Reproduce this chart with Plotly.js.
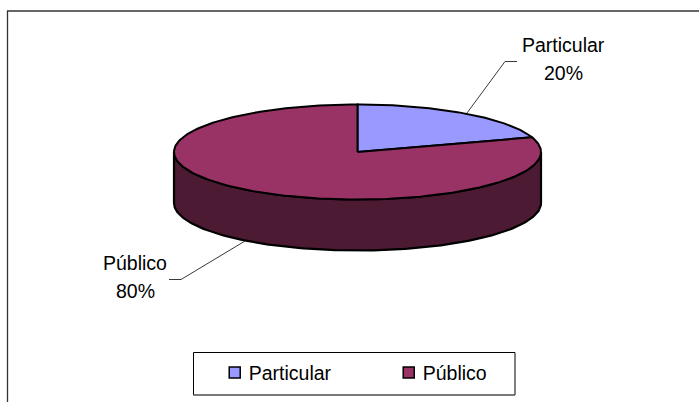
<!DOCTYPE html>
<html>
<head>
<meta charset="utf-8">
<script src="https://cdn.plot.ly/plotly-3.0.1.min.js"></script>
<style>html,body{margin:0;padding:0;background:#fff}#chart{width:699px;height:402px}</style>
</head>
<body>
<div id="chart"></div>
<script>
const categories = ["Particular", "Público"];
const values = [20, 80];
const topColors = ["#9999FF", "#993366"];
const sideColor = "#4D1A33";
const labelPositions = [[563, 45, 73], [135, 263, 291]];

const cx = 357.5, cy = 152, rx = 183.5, ry = 47.5, depth = 51;
const font = "Liberation Sans, Arial, sans-serif";
const total = values.reduce((a, b) => a + b, 0);

function rim(startDeg, endDeg, dy) {
  const xs = [], ys = [];
  const step = startDeg < endDeg ? 1 : -1;
  for (let d = startDeg; step > 0 ? d < endDeg : d > endDeg; d += step) {
    const t = d * Math.PI / 180;
    xs.push(cx + rx * Math.sin(t));
    ys.push(cy - ry * Math.cos(t) + dy);
  }
  const t = endDeg * Math.PI / 180;
  xs.push(cx + rx * Math.sin(t));
  ys.push(cy - ry * Math.cos(t) + dy);
  return [xs, ys];
}

const traces = [];
// legend keys (hidden below the pie)
categories.forEach((name, i) => traces.push({
  type: "scatter", mode: "markers", x: [cx], y: [cy], name,
  marker: { symbol: "square", size: 11, color: topColors[i], line: { color: "#000", width: 1.5 } },
  showlegend: true, hoverinfo: "skip"
}));

// side wall
const front = rim(90, 270, 0), back = rim(270, 90, depth);
traces.push({
  type: "scatter", mode: "lines", fill: "toself", fillcolor: sideColor,
  x: front[0].concat(back[0], [front[0][0]]),
  y: front[1].concat(back[1], [front[1][0]]),
  line: { color: "#000", width: 2.2 }, showlegend: false, hoverinfo: "skip"
});

// top wedges
let acc = 0;
values.forEach((v, i) => {
  const a0 = acc / total * 360, a1 = (acc + v) / total * 360;
  acc += v;
  const [xs, ys] = rim(a0, a1, 0);
  traces.push({
    type: "scatter", mode: "lines", fill: "toself", fillcolor: topColors[i],
    x: [cx].concat(xs, [cx]), y: [cy].concat(ys, [cy]),
    line: { color: "#000", width: 2 }, showlegend: false, name: categories[i],
    hoverinfo: "skip"
  });
});

const annotations = [];
categories.forEach((name, i) => {
  const [x, y1, y2] = labelPositions[i];
  [[name, y1], [Math.round(values[i] / total * 100) + "%", y2]].forEach(([text, y]) => annotations.push({
    x, y, xref: "x", yref: "y", text, showarrow: false,
    xanchor: "center", yanchor: "middle",
    font: { family: font, size: 19.5, color: "#000" }
  }));
});

const thin = { color: "#222", width: 0.9 };
const shapes = [
  { type: "line", x0: 7.5, x1: 7.5, y0: 11, y1: 402, line: { color: "#333", width: 1.3 } },
  { type: "line", x0: 7, x1: 699, y0: 11, y1: 11, line: { color: "#333", width: 1.3 } },
  { type: "line", x0: 517, x1: 505, y0: 61.5, y1: 61.5, line: thin },
  { type: "line", x0: 505, x1: 467, y0: 61.5, y1: 113, line: thin },
  { type: "line", x0: 169, x1: 181, y0: 279.5, y1: 279.5, line: thin },
  { type: "line", x0: 181, x1: 245, y0: 279.5, y1: 241, line: thin },
  { type: "rect", x0: 193.5, x1: 515, y0: 352.5, y1: 395, line: { color: "#000", width: 1 }, fillcolor: "#fff", layer: "below" },
  { type: "line", x0: 193.5, x1: 515, y0: 395, y1: 395, line: { color: "#777", width: 1.5 } }
];

const layout = {
  width: 699, height: 402,
  margin: { l: 0, r: 0, t: 0, b: 0 },
  paper_bgcolor: "#fff", plot_bgcolor: "#fff",
  xaxis: { range: [0, 699], visible: false, fixedrange: true },
  yaxis: { range: [402, 0], visible: false, fixedrange: true },
  shapes, annotations,
  legend: {
    orientation: "h", x: 0.2986, y: 0.0724, xanchor: "left", yanchor: "middle",
    bgcolor: "rgba(0,0,0,0)", borderwidth: 0,
    entrywidth: 129, entrywidthmode: "pixels", itemclick: false, itemdoubleclick: false,
    font: { family: font, size: 19.5, color: "#000" }
  },
  showlegend: true
};

Plotly.newPlot("chart", traces, layout, { displayModeBar: false, staticPlot: true }).then(() => {
  // bring each legend key closer to its text, as in the original
  document.querySelectorAll("#chart .legend .legendpoints").forEach(g => g.setAttribute("transform", "translate(6,0)"));
});
</script>
</body>
</html>
